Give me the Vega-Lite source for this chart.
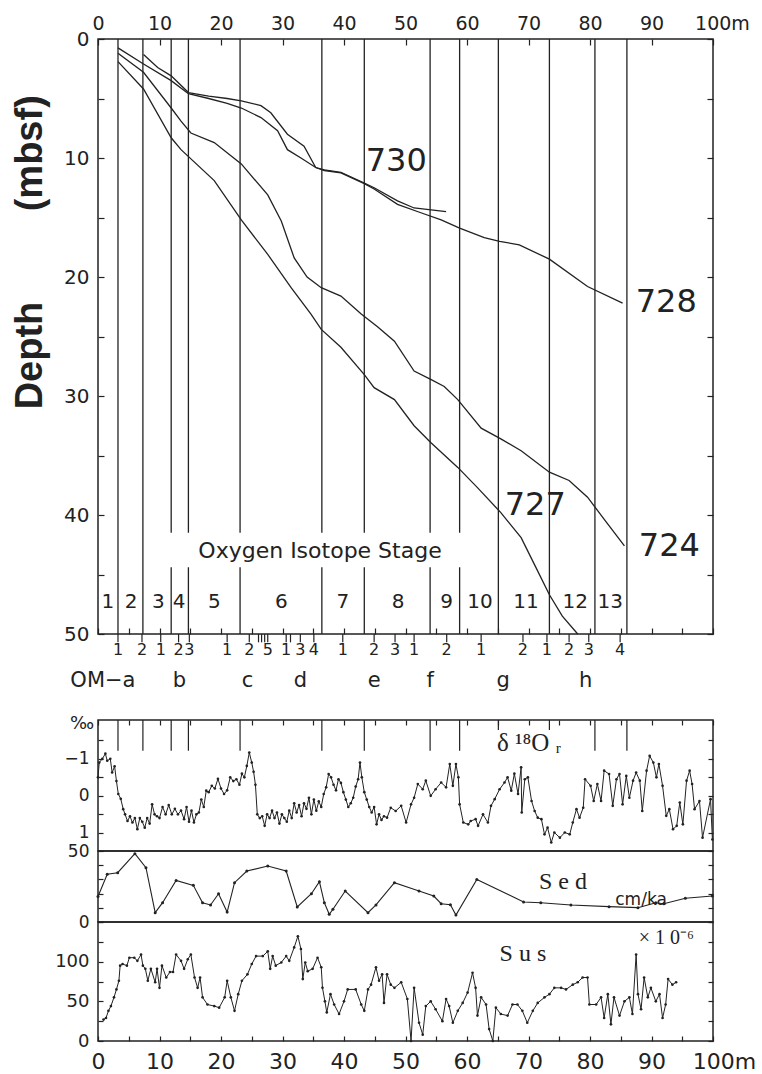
{
"$schema": "https://vega.github.io/schema/vega-lite/v6.json",
"padding": {"left": 11, "top": 13, "right": 5, "bottom": 5},
"config": {
  "view": {"stroke": "#222", "strokeWidth": 1.5},
  "font": "DejaVu Sans",
  "axis": {"domain": false, "grid": false, "tickColor": "#222", "labelColor": "#222", "labelFont": "DejaVu Sans", "tickWidth": 1.2, "labelFlush": false, "labelOverlap": false}
},
"datasets": {
  "bounds": [{"b":3.25},{"b":7.3},{"b":11.9},{"b":14.7},{"b":23.1},{"b":36.4},{"b":43.3},{"b":54.0},{"b":58.8},{"b":65.1},{"b":73.4},{"b":80.8},{"b":86.0}],
  "curves": [
    {"site":"730","x":7.4,"depth":1.3},{"site":"730","x":9.7,"depth":2.4},{"site":"730","x":11.9,"depth":3.1},{"site":"730","x":14.7,"depth":4.5},{"site":"730","x":18,"depth":4.8},{"site":"730","x":21,"depth":5.0},{"site":"730","x":23.3,"depth":5.2},{"site":"730","x":26.5,"depth":5.6},{"site":"730","x":28.1,"depth":6.2},{"site":"730","x":30.8,"depth":8.0},{"site":"730","x":33.5,"depth":9.0},{"site":"730","x":35.4,"depth":10.8},{"site":"730","x":36.8,"depth":11.0},{"site":"730","x":39.5,"depth":11.2},{"site":"730","x":43.3,"depth":12.1},{"site":"730","x":44.9,"depth":12.5},{"site":"730","x":48.7,"depth":13.6},{"site":"730","x":51.4,"depth":14.2},{"site":"730","x":56.6,"depth":14.5},
    {"site":"728","x":3.25,"depth":0.75},{"site":"728","x":7.4,"depth":2.1},{"site":"728","x":11.9,"depth":3.5},{"site":"728","x":14.7,"depth":4.6},{"site":"728","x":18,"depth":5.0},{"site":"728","x":21,"depth":5.4},{"site":"728","x":23.3,"depth":5.8},{"site":"728","x":26.5,"depth":6.6},{"site":"728","x":29.2,"depth":7.7},{"site":"728","x":30.8,"depth":9.3},{"site":"728","x":33,"depth":10.0},{"site":"728","x":35.4,"depth":10.8},{"site":"728","x":36.8,"depth":11.05},{"site":"728","x":39.5,"depth":11.25},{"site":"728","x":43.3,"depth":12.15},{"site":"728","x":44.9,"depth":12.6},{"site":"728","x":48.7,"depth":13.9},{"site":"728","x":52.5,"depth":14.6},{"site":"728","x":55.8,"depth":15.2},{"site":"728","x":58.8,"depth":15.9},{"site":"728","x":62.8,"depth":16.7},{"site":"728","x":65.3,"depth":17.0},{"site":"728","x":68.5,"depth":17.3},{"site":"728","x":73.4,"depth":18.5},{"site":"728","x":79.6,"depth":20.8},{"site":"728","x":85.3,"depth":22.2},
    {"site":"724","x":3.25,"depth":1.2},{"site":"724","x":7.4,"depth":2.8},{"site":"724","x":11.9,"depth":5.8},{"site":"724","x":13.5,"depth":6.9},{"site":"724","x":15.1,"depth":7.9},{"site":"724","x":18.9,"depth":8.7},{"site":"724","x":23.3,"depth":10.5},{"site":"724","x":27.6,"depth":13.1},{"site":"724","x":29.8,"depth":15.3},{"site":"724","x":31.9,"depth":18.4},{"site":"724","x":34,"depth":20.0},{"site":"724","x":36.3,"depth":20.9},{"site":"724","x":39.5,"depth":21.6},{"site":"724","x":42.8,"depth":23.1},{"site":"724","x":45.5,"depth":24.2},{"site":"724","x":48.2,"depth":25.4},{"site":"724","x":51.4,"depth":27.9},{"site":"724","x":54.1,"depth":28.6},{"site":"724","x":56.3,"depth":29.2},{"site":"724","x":58.5,"depth":30.3},{"site":"724","x":62.3,"depth":32.7},{"site":"724","x":65.5,"depth":33.6},{"site":"724","x":68.8,"depth":34.6},{"site":"724","x":73.4,"depth":36.4},{"site":"724","x":76.6,"depth":37.1},{"site":"724","x":79.6,"depth":38.5},{"site":"724","x":82.5,"depth":40.5},{"site":"724","x":85.6,"depth":42.6},
    {"site":"727","x":3.25,"depth":1.9},{"site":"727","x":7.4,"depth":4.2},{"site":"727","x":11.9,"depth":8.3},{"site":"727","x":13.5,"depth":9.3},{"site":"727","x":18.9,"depth":11.9},{"site":"727","x":23.3,"depth":15.2},{"site":"727","x":27.6,"depth":18.1},{"site":"727","x":31.4,"depth":20.9},{"site":"727","x":34.6,"depth":23.1},{"site":"727","x":36.3,"depth":24.4},{"site":"727","x":39.5,"depth":25.9},{"site":"727","x":43.3,"depth":28.2},{"site":"727","x":44.9,"depth":29.3},{"site":"727","x":48.2,"depth":30.3},{"site":"727","x":51.4,"depth":32.5},{"site":"727","x":54.1,"depth":33.9},{"site":"727","x":58.5,"depth":36.0},{"site":"727","x":61.7,"depth":37.7},{"site":"727","x":65.5,"depth":39.8},{"site":"727","x":68.8,"depth":41.9},{"site":"727","x":71.2,"depth":44.4},{"site":"727","x":73.4,"depth":46.7},{"site":"727","x":75.5,"depth":48.5},{"site":"727","x":78.0,"depth":50.0}
  ],
  "curveLabels": [{"label":"730","x":48.5,"y":10.25},{"label":"728","x":92.4,"y":22.1},{"label":"724","x":92.9,"y":42.6},{"label":"727","x":71.1,"y":39.2}],
  "stages": [{"s":"1","x":1.6},{"s":"2","x":5.4},{"s":"3","x":9.8},{"s":"4","x":13.2},{"s":"5","x":18.9},{"s":"6","x":29.8},{"s":"7","x":39.8},{"s":"8","x":48.8},{"s":"9","x":56.7},{"s":"10","x":62.1},{"s":"11","x":69.6},{"s":"12","x":77.6},{"s":"13","x":83.3}],
  "omEvents": [{"n":"1","x":3.25},{"n":"2","x":7.15},{"n":"1","x":10.2},{"n":"2","x":13.1},{"n":"3","x":14.85},{"n":"1","x":21.0},{"n":"2","x":24.6},{"n":"","x":26.1},{"n":"","x":26.6},{"n":"","x":27.1},{"n":"5","x":27.6},{"n":"1","x":30.6},{"n":"","x":31.3},{"n":"3","x":32.9},{"n":"4","x":35.1},{"n":"1","x":39.8},{"n":"2","x":44.9},{"n":"3","x":48.3},{"n":"1","x":51.4},{"n":"2","x":56.7},{"n":"1","x":62.3},{"n":"2","x":69.1},{"n":"1","x":73.0},{"n":"2","x":76.6},{"n":"3","x":79.8},{"n":"4","x":84.9}],
  "omLetters": [{"t":"OM−a","x":0.8},{"t":"b","x":13.25},{"t":"c","x":24.3},{"t":"d","x":32.9},{"t":"e","x":44.9},{"t":"f","x":54.0},{"t":"g","x":65.9},{"t":"h","x":79.3}],
  "d18O": [
    {"x":0,"v":-0.5},{"x":0.2,"v":-0.9},{"x":0.7,"v":-1.0},{"x":1.2,"v":-1.14},{"x":1.5,"v":-0.95},{"x":2.0,"v":-1.0},{"x":2.3,"v":-0.63},{"x":2.7,"v":-0.8},{"x":3.0,"v":-0.4},{"x":3.3,"v":-0.05},{"x":3.7,"v":0.08},{"x":4.1,"v":0.36},{"x":4.4,"v":0.5},{"x":4.8,"v":0.68},{"x":5.2,"v":0.55},{"x":5.6,"v":0.72},{"x":6.0,"v":0.6},{"x":6.4,"v":0.9},{"x":6.8,"v":0.6},{"x":7.2,"v":0.7},{"x":7.6,"v":0.86},{"x":8.0,"v":0.6},{"x":8.4,"v":0.75},{"x":8.8,"v":0.23},{"x":9.2,"v":0.5},{"x":9.6,"v":0.55},{"x":10.0,"v":0.6},{"x":10.5,"v":0.3},{"x":11.0,"v":0.5},{"x":11.5,"v":0.25},{"x":12.0,"v":0.5},{"x":12.5,"v":0.35},{"x":13.0,"v":0.5},{"x":13.5,"v":0.4},{"x":14.0,"v":0.63},{"x":14.4,"v":0.3},{"x":14.8,"v":0.7},{"x":15.2,"v":0.4},{"x":15.6,"v":0.72},{"x":16.0,"v":0.5},{"x":16.4,"v":0.45},{"x":16.8,"v":0.1},{"x":17.2,"v":0.3},{"x":17.6,"v":-0.14},{"x":18.0,"v":-0.1},{"x":18.5,"v":-0.27},{"x":19.0,"v":-0.2},{"x":19.5,"v":-0.46},{"x":20.0,"v":-0.2},{"x":20.5,"v":-0.05},{"x":21.0,"v":-0.15},{"x":21.5,"v":-0.5},{"x":22.0,"v":-0.4},{"x":22.5,"v":-0.45},{"x":23.0,"v":-0.3},{"x":23.4,"v":-0.6},{"x":23.8,"v":-0.5},{"x":24.2,"v":-0.81},{"x":24.6,"v":-1.17},{"x":25.0,"v":-0.9},{"x":25.3,"v":-0.65},{"x":25.6,"v":-0.3},{"x":25.9,"v":0.5},{"x":26.3,"v":0.6},{"x":26.7,"v":0.55},{"x":27.1,"v":0.81},{"x":27.5,"v":0.5},{"x":27.9,"v":0.6},{"x":28.3,"v":0.4},{"x":28.7,"v":0.6},{"x":29.1,"v":0.45},{"x":29.5,"v":0.75},{"x":29.9,"v":0.5},{"x":30.3,"v":0.6},{"x":30.7,"v":0.7},{"x":31.1,"v":0.4},{"x":31.5,"v":0.6},{"x":31.9,"v":0.2},{"x":32.3,"v":0.45},{"x":32.7,"v":0.25},{"x":33.1,"v":0.55},{"x":33.5,"v":0.2},{"x":33.9,"v":0.35},{"x":34.3,"v":0.05},{"x":34.7,"v":0.5},{"x":35.1,"v":0.1},{"x":35.5,"v":0.4},{"x":35.9,"v":0.15},{"x":36.3,"v":0.3},{"x":36.7,"v":-0.05},{"x":37.1,"v":-0.23},{"x":37.5,"v":-0.59},{"x":37.9,"v":-0.5},{"x":38.3,"v":-0.3},{"x":38.7,"v":-0.15},{"x":39.1,"v":-0.45},{"x":39.5,"v":-0.35},{"x":39.9,"v":-0.1},{"x":40.3,"v":0.1},{"x":40.7,"v":0.3},{"x":41.1,"v":0.2},{"x":41.5,"v":0.05},{"x":41.9,"v":-0.25},{"x":42.3,"v":-0.45},{"x":42.6,"v":-0.9},{"x":42.9,"v":-0.5},{"x":43.3,"v":-0.1},{"x":43.7,"v":0.1},{"x":44.1,"v":0.3},{"x":44.5,"v":0.45},{"x":44.9,"v":0.3},{"x":45.3,"v":0.77},{"x":45.7,"v":0.5},{"x":46.1,"v":0.65},{"x":46.5,"v":0.55},
    {"x":47.0,"v":0.59},{"x":47.6,"v":0.32},{"x":48.4,"v":0.41},{"x":49.3,"v":0.27},{"x":50.1,"v":0.72},{"x":50.9,"v":0.23},{"x":51.4,"v":0.05},{"x":52.0,"v":-0.32},{"x":52.8,"v":-0.18},{"x":53.3,"v":-0.41},{"x":54.1,"v":0.0},{"x":54.9,"v":-0.18},{"x":55.8,"v":-0.36},{"x":56.6,"v":-0.23},{"x":57.2,"v":-0.86},{"x":57.7,"v":-0.27},{"x":58.2,"v":-0.86},{"x":58.6,"v":-0.5},{"x":58.8,"v":0.23},{"x":59.4,"v":0.72},{"x":60.2,"v":0.77},{"x":60.6,"v":0.68},{"x":61.4,"v":0.63},{"x":61.8,"v":0.81},{"x":62.6,"v":0.5},{"x":63.4,"v":0.72},{"x":63.9,"v":0.27},{"x":64.5,"v":0.09},{"x":65.3,"v":-0.18},{"x":66.1,"v":-0.36},{"x":66.6,"v":-0.5},{"x":67.2,"v":-0.14},{"x":67.7,"v":-0.6},{"x":68.3,"v":-0.05},{"x":68.8,"v":-0.77},{"x":68.9,"v":0.45},{"x":69.4,"v":-0.45},{"x":69.9,"v":-0.5},{"x":70.5,"v":0.14},{"x":71.0,"v":0.41},{"x":71.5,"v":0.59},{"x":72.1,"v":0.63},{"x":72.6,"v":1.04},{"x":73.1,"v":0.86},{"x":73.7,"v":1.26},{"x":74.2,"v":0.99},{"x":75.1,"v":1.13},{"x":75.9,"v":0.99},{"x":76.7,"v":1.04},{"x":77.2,"v":0.72},{"x":77.8,"v":0.36},{"x":78.3,"v":0.59},{"x":78.9,"v":0.32},{"x":79.2,"v":-0.45},{"x":80.1,"v":-0.27},{"x":80.6,"v":0.14},{"x":81.2,"v":-0.32},{"x":81.8,"v":0.14},{"x":82.3,"v":-0.68},{"x":83.1,"v":-0.59},{"x":83.7,"v":0.27},{"x":84.3,"v":-0.45},{"x":84.8,"v":-0.59},{"x":85.3,"v":0.23},{"x":85.9,"v":-0.54},{"x":86.4,"v":0.05},{"x":87.0,"v":-0.41},{"x":87.5,"v":-0.63},{"x":88.1,"v":-0.41},{"x":88.5,"v":0.41},{"x":89.2,"v":-0.68},{"x":89.7,"v":-1.08},{"x":90.3,"v":-0.9},{"x":90.8,"v":-0.5},{"x":91.2,"v":-0.86},{"x":91.8,"v":-0.27},{"x":92.4,"v":0.54},{"x":92.9,"v":0.36},{"x":93.5,"v":0.9},{"x":94.1,"v":0.81},{"x":94.6,"v":0.18},{"x":95.1,"v":0.77},{"x":95.7,"v":-0.41},{"x":96.2,"v":-0.68},{"x":96.6,"v":-0.32},{"x":97.0,"v":0.36},{"x":97.8,"v":0.14},{"x":98.3,"v":1.13},{"x":99.6,"v":0.09},{"x":99.9,"v":1.18}
  ],
  "sed": [{"x":0,"v":18},{"x":1.5,"v":33.6},{"x":3.2,"v":34.7},{"x":6.0,"v":48.1},{"x":7.8,"v":38.2},{"x":9.3,"v":6.6},{"x":10.5,"v":13.6},{"x":12.7,"v":29.3},{"x":15.5,"v":25.8},{"x":17.0,"v":13.6},{"x":18.3,"v":12.0},{"x":19.6,"v":19.9},{"x":21.0,"v":7.0},{"x":22.2,"v":27.7},{"x":24.2,"v":35.9},{"x":27.6,"v":39.4},{"x":30.6,"v":35.9},{"x":32.4,"v":10.6},{"x":34.7,"v":19.9},{"x":36.0,"v":28.4},{"x":36.8,"v":13.6},{"x":37.6,"v":5.4},{"x":38.2,"v":9.0},{"x":40.2,"v":21.8},{"x":43.9,"v":6.6},{"x":45.2,"v":12.0},{"x":48.2,"v":27.7},{"x":52.2,"v":21.8},{"x":54.6,"v":18.3},{"x":55.8,"v":12.9},{"x":57.3,"v":12.2},{"x":58.2,"v":4.9},{"x":61.6,"v":30.0},{"x":69.2,"v":14.1},{"x":72.0,"v":13.6},{"x":76.9,"v":12.0},{"x":83.1,"v":10.8},{"x":87.8,"v":10.1},{"x":90.7,"v":13.6},{"x":92.0,"v":12.9},{"x":95.5,"v":16.7},{"x":99.9,"v":18.3}],
  "sus": [{"x":0.9,"v":27},{"x":1.3,"v":29},{"x":1.7,"v":38},{"x":2.1,"v":44},{"x":2.6,"v":55},{"x":3.0,"v":65},{"x":3.4,"v":76},{"x":3.6,"v":95},{"x":4.0,"v":97},{"x":4.7,"v":95},{"x":5.1,"v":105},{"x":5.9,"v":105},{"x":6.4,"v":101},{"x":7.0,"v":109},{"x":7.3,"v":95},{"x":7.7,"v":91},{"x":8.1,"v":76},{"x":8.6,"v":91},{"x":9.3,"v":74},{"x":9.6,"v":91},{"x":10.0,"v":67},{"x":10.4,"v":95},{"x":11.1,"v":80},{"x":11.7,"v":87},{"x":12.2,"v":87},{"x":12.7,"v":109},{"x":13.5,"v":101},{"x":14.0,"v":91},{"x":14.6,"v":103},{"x":15.1,"v":109},{"x":15.7,"v":80},{"x":16.2,"v":67},{"x":16.6,"v":80},{"x":17.0,"v":55},{"x":17.8,"v":46},{"x":18.9,"v":44},{"x":19.7,"v":42},{"x":20.6,"v":55},{"x":21.0,"v":76},{"x":21.6,"v":55},{"x":22.2,"v":38},{"x":22.8,"v":59},{"x":23.4,"v":76},{"x":24.3,"v":84},{"x":25.0,"v":97},{"x":25.7,"v":107},{"x":26.8,"v":107},{"x":27.6,"v":113},{"x":28.0,"v":91},{"x":28.4,"v":107},{"x":28.9,"v":95},{"x":29.8,"v":99},{"x":30.6,"v":107},{"x":31.1,"v":101},{"x":31.9,"v":118},{"x":32.5,"v":132},{"x":33.0,"v":116},{"x":33.3,"v":78},{"x":33.7,"v":99},{"x":34.1,"v":88},{"x":34.9,"v":91},{"x":35.7,"v":105},{"x":36.3,"v":93},{"x":36.5,"v":67},{"x":36.9,"v":50},{"x":37.2,"v":36},{"x":37.8,"v":59},{"x":38.4,"v":46},{"x":39.2,"v":34},{"x":40.0,"v":50},{"x":40.6,"v":65},{"x":41.9,"v":65},{"x":42.8,"v":46},{"x":43.3,"v":38},{"x":43.9,"v":65},{"x":44.4,"v":71},{"x":45.2,"v":93},{"x":45.7,"v":76},{"x":46.2,"v":84},{"x":46.5,"v":48},{"x":47.0,"v":84},{"x":47.6,"v":71},{"x":48.2,"v":67},{"x":49.3,"v":74},{"x":50.3,"v":53},{"x":50.9,"v":0},{"x":51.4,"v":67},{"x":52.2,"v":23},{"x":52.8,"v":8},{"x":53.3,"v":44},{"x":54.1,"v":50},{"x":54.9,"v":40},{"x":56.0,"v":25},{"x":56.6,"v":53},{"x":57.1,"v":44},{"x":57.7,"v":23},{"x":58.5,"v":38},{"x":59.3,"v":48},{"x":60.1,"v":61},{"x":60.9,"v":86},{"x":61.4,"v":67},{"x":61.7,"v":32},{"x":62.3,"v":55},{"x":63.1,"v":46},{"x":63.6,"v":15},{"x":64.2,"v":0},{"x":64.7,"v":42},{"x":65.5,"v":34},{"x":66.6,"v":32},{"x":67.4,"v":46},{"x":68.2,"v":46},{"x":69.0,"v":38},{"x":69.8,"v":23},{"x":70.7,"v":38},{"x":71.5,"v":48},{"x":72.6,"v":55},{"x":73.4,"v":59},{"x":74.2,"v":67},{"x":75.3,"v":67},{"x":76.1,"v":65},{"x":77.2,"v":71},{"x":78.0,"v":74},{"x":78.8,"v":80},{"x":79.6,"v":80},{"x":79.9,"v":46},{"x":81.0,"v":46},{"x":81.8,"v":55},{"x":82.3,"v":29},{"x":82.9,"v":59},{"x":83.4,"v":21},{"x":83.9,"v":55},{"x":84.8,"v":32},{"x":85.6,"v":50},{"x":86.4,"v":55},{"x":86.9,"v":34},{"x":87.5,"v":109},{"x":87.8,"v":59},{"x":88.3,"v":40},{"x":88.8,"v":80},{"x":89.4,"v":55},{"x":89.9,"v":67},{"x":90.7,"v":50},{"x":91.3,"v":59},{"x":91.8,"v":29},{"x":92.3,"v":46},{"x":92.7,"v":78},{"x":93.4,"v":71},{"x":94.0,"v":74}]
},
"spacing": 86,
"bounds": "flush",
"vconcat": [
  {
    "width": 615, "height": 595,
    "resolve": {"axis": {"x": "independent", "y": "independent"}},
    "layer": [
      {
        "data": {"name": "bounds"},
        "mark": {"type": "rule", "color": "#222", "strokeWidth": 1.3},
        "encoding": {
          "x": {"field": "b", "type": "quantitative", "scale": {"domain": [0, 100], "nice": false, "zero": false},
                "axis": {"orient": "top", "title": null, "values": [0,10,20,30,40,50,60,70,80,90,100], "tickSize": -6, "labelPadding": 12, "labelFontSize": 19,
                         "labelExpr": "datum.value == 100 ? '100m' : datum.label",
                         "labelOffset": {"condition": {"test": "datum.value == 100", "value": 9}, "value": 0}}},
          "y": {"datum": 0, "type": "quantitative", "scale": {"domain": [0, 50], "reverse": true, "nice": false, "zero": false},
                "axis": {"orient": "left", "title": null, "values": [0,5,10,15,20,25,30,35,40,45,50], "tickSize": -6, "labelPadding": 15, "labelFontSize": 20,
                         "labelExpr": "datum.value % 10 == 0 ? datum.label : ''"}},
          "y2": {"datum": 50}
        }
      },
      {
        "data": {"values": [{}]},
        "mark": {"type": "rect", "fill": "white"},
        "encoding": {
          "x": {"datum": 10.8, "type": "quantitative", "axis": null}, "x2": {"datum": 60.5},
          "y": {"datum": 41.5, "type": "quantitative", "axis": null}, "y2": {"datum": 44.4}
        }
      },
      {
        "data": {"name": "curves"},
        "mark": {"type": "line", "color": "#222", "strokeWidth": 1.3},
        "encoding": {
          "x": {"field": "x", "type": "quantitative", "axis": {"orient": "bottom", "title": null, "values": [0,5,10,15,20,25,30,35,40,45,50,55,60,65,70,75,80,85,90,95,100], "labels": false, "tickSize": -6}},
          "y": {"field": "depth", "type": "quantitative", "axis": {"orient": "right", "title": null, "values": [0,5,10,15,20,25,30,35,40,45,50], "labels": false, "tickSize": -6}},
          "detail": {"field": "site"}
        }
      },
      {
        "data": {"name": "curveLabels"},
        "mark": {"type": "text", "fontSize": 32, "font": "DejaVu Sans", "color": "#222", "baseline": "middle", "align": "center"},
        "encoding": {
          "x": {"field": "x", "type": "quantitative", "axis": null},
          "y": {"field": "y", "type": "quantitative", "axis": null},
          "text": {"field": "label"}
        }
      },
      {
        "data": {"name": "stages"},
        "mark": {"type": "text", "fontSize": 20, "color": "#222", "baseline": "alphabetic", "align": "center"},
        "encoding": {
          "x": {"field": "x", "type": "quantitative", "axis": null},
          "y": {"datum": 47.8, "type": "quantitative", "axis": null},
          "text": {"field": "s"}
        }
      },
      {
        "data": {"values": [{"t": "Oxygen   Isotope   Stage"}]},
        "mark": {"type": "text", "fontSize": 22, "color": "#222", "baseline": "alphabetic", "align": "center"},
        "encoding": {
          "x": {"datum": 36.1, "type": "quantitative", "axis": null},
          "y": {"datum": 43.6, "type": "quantitative", "axis": null},
          "text": {"field": "t"}
        }
      },
      {
        "data": {"name": "omEvents"},
        "mark": {"type": "rule", "color": "#222", "strokeWidth": 1.2},
        "encoding": {
          "x": {"field": "x", "type": "quantitative", "axis": null},
          "y": {"datum": 50, "type": "quantitative", "axis": null},
          "y2": {"datum": 50.7}
        }
      },
      {
        "data": {"name": "omEvents"},
        "mark": {"type": "text", "fontSize": 16, "color": "#222", "baseline": "alphabetic", "align": "center"},
        "encoding": {
          "x": {"field": "x", "type": "quantitative", "axis": null},
          "y": {"datum": 51.8, "type": "quantitative", "axis": null},
          "text": {"field": "n"}
        }
      },
      {
        "data": {"name": "omLetters"},
        "mark": {"type": "text", "fontSize": 21, "color": "#222", "baseline": "alphabetic", "align": "center"},
        "encoding": {
          "x": {"field": "x", "type": "quantitative", "axis": null},
          "y": {"datum": 54.45, "type": "quantitative", "axis": null},
          "text": {"field": "t"}
        }
      },
      {
        "data": {"values": [{"t": "Depth", "x": -10.9, "y": 26.6}]},
        "mark": {"type": "text", "fontSize": 38, "fontWeight": "bold", "font": "Liberation Sans", "color": "#222", "angle": 270, "baseline": "middle", "align": "center"},
        "encoding": {
          "x": {"field": "x", "type": "quantitative", "axis": null},
          "y": {"field": "y", "type": "quantitative", "axis": null},
          "text": {"field": "t"}
        }
      },
      {
        "data": {"values": [{"t": "(mbsf)", "x": -10.9, "y": 9.6}]},
        "mark": {"type": "text", "fontSize": 38, "fontWeight": "bold", "font": "Liberation Sans", "color": "#222", "angle": 270, "baseline": "middle", "align": "center"},
        "encoding": {
          "x": {"field": "x", "type": "quantitative", "axis": null},
          "y": {"field": "y", "type": "quantitative", "axis": null},
          "text": {"field": "t"}
        }
      }
    ]
  },
  {
    "spacing": 0,
    "bounds": "flush",
    "vconcat": [
      {
        "width": 615, "height": 131,
        "resolve": {"axis": {"x": "independent", "y": "independent"}},
        "layer": [
          {
            "data": {"name": "d18O"},
            "mark": {"type": "line", "color": "#222", "strokeWidth": 1},
            "encoding": {
              "x": {"field": "x", "type": "quantitative", "scale": {"domain": [0, 100], "nice": false, "zero": false},
                    "axis": {"orient": "top", "title": null, "values": [0,5,10,15,20,25,30,35,40,45,50,55,60,65,70,75,80,85,90,95,100], "labels": false, "tickSize": -5}},
              "y": {"field": "v", "type": "quantitative", "scale": {"domain": [-2.05, 1.49], "reverse": true, "nice": false, "zero": false},
                    "axis": {"orient": "left", "title": null, "values": [-1.5,-1,-0.5,0,0.5,1], "tickSize": -5, "labelPadding": 14, "labelFontSize": 17,
                             "labelExpr": "datum.value % 1 == 0 ? format(datum.value, 'd') : ''"}}
            }
          },
          {
            "data": {"name": "d18O"},
            "mark": {"type": "point", "filled": true, "size": 7, "color": "#222", "opacity": 1},
            "encoding": {
              "x": {"field": "x", "type": "quantitative", "axis": null},
              "y": {"field": "v", "type": "quantitative", "axis": {"orient": "right", "title": null, "values": [-1.5,-1,-0.5,0,0.5,1], "labels": false, "tickSize": -5}}
            }
          },
          {
            "data": {"name": "bounds"},
            "transform": [{"filter": "datum.b != 65.1 && datum.b != 73.4"}],
            "mark": {"type": "rule", "color": "#222", "strokeWidth": 1.2},
            "encoding": {
              "x": {"field": "b", "type": "quantitative", "axis": null},
              "y": {"datum": -2.05, "type": "quantitative", "axis": null},
              "y2": {"datum": -1.22}
            }
          },
          {
            "data": {"name": "bounds"},
            "transform": [{"filter": "datum.b == 65.1 || datum.b == 73.4"}],
            "mark": {"type": "rule", "color": "#222", "strokeWidth": 1.2},
            "encoding": {
              "x": {"field": "b", "type": "quantitative", "axis": null},
              "y": {"datum": -2.05, "type": "quantitative", "axis": null},
              "y2": {"datum": -1.78}
            }
          },
          {
            "data": {"values": [{"t": "δ ¹⁸O ᵣ", "x": 70.1, "y": -1.43}]},
            "mark": {"type": "text", "fontSize": 25, "font": "Liberation Serif", "color": "#222", "baseline": "middle", "align": "center"},
            "encoding": {
              "x": {"field": "x", "type": "quantitative", "axis": null},
              "y": {"field": "y", "type": "quantitative", "axis": null},
              "text": {"field": "t"}
            }
          },
          {
            "data": {"values": [{"t": "‰", "x": -2.6, "y": -1.95}]},
            "mark": {"type": "text", "fontSize": 18, "color": "#222", "baseline": "middle", "align": "center"},
            "encoding": {
              "x": {"field": "x", "type": "quantitative", "axis": null},
              "y": {"field": "y", "type": "quantitative", "axis": null},
              "text": {"field": "t"}
            }
          }
        ]
      },
      {
        "width": 615, "height": 71,
        "resolve": {"axis": {"x": "independent", "y": "independent"}},
        "layer": [
          {
            "data": {"name": "sed"},
            "mark": {"type": "line", "color": "#222", "strokeWidth": 1.1},
            "encoding": {
              "x": {"field": "x", "type": "quantitative", "scale": {"domain": [0, 100], "nice": false, "zero": false}, "axis": null},
              "y": {"field": "v", "type": "quantitative", "scale": {"domain": [0, 50], "nice": false},
                    "axis": {"orient": "left", "title": null, "values": [0,10,20,30,40,50], "tickSize": -5, "labelPadding": 14, "labelFontSize": 17,
                             "labelExpr": "datum.value % 50 == 0 ? datum.label : ''"}}
            }
          },
          {
            "data": {"name": "sed"},
            "mark": {"type": "point", "filled": true, "size": 9, "color": "#222", "opacity": 1},
            "encoding": {
              "x": {"field": "x", "type": "quantitative", "axis": null},
              "y": {"field": "v", "type": "quantitative", "axis": {"orient": "right", "title": null, "values": [0,10,20,30,40,50], "labels": false, "tickSize": -5}}
            }
          },
          {
            "data": {"values": [{"t": "S e d", "x": 75.6, "y": 28.2}]},
            "mark": {"type": "text", "fontSize": 24, "font": "Liberation Serif", "color": "#222", "baseline": "middle", "align": "center"},
            "encoding": {
              "x": {"field": "x", "type": "quantitative", "axis": null},
              "y": {"field": "y", "type": "quantitative", "axis": null},
              "text": {"field": "t"}
            }
          },
          {
            "data": {"values": [{"t": "cm/ka", "x": 88.3, "y": 15.5}]},
            "mark": {"type": "text", "fontSize": 17, "color": "#222", "baseline": "middle", "align": "center"},
            "encoding": {
              "x": {"field": "x", "type": "quantitative", "axis": null},
              "y": {"field": "y", "type": "quantitative", "axis": null},
              "text": {"field": "t"}
            }
          }
        ]
      },
      {
        "width": 615, "height": 119,
        "resolve": {"axis": {"x": "independent", "y": "independent"}},
        "layer": [
          {
            "data": {"name": "sus"},
            "mark": {"type": "line", "color": "#222", "strokeWidth": 1},
            "encoding": {
              "x": {"field": "x", "type": "quantitative", "scale": {"domain": [0, 100], "nice": false, "zero": false},
                    "axis": {"orient": "bottom", "title": null, "values": [0,5,10,15,20,25,30,35,40,45,50,55,60,65,70,75,80,85,90,95,100], "tickSize": -5, "labelPadding": 15, "labelFontSize": 22,
                             "labelExpr": "datum.value % 10 != 0 ? '' : (datum.value == 100 ? '100m' : datum.label)",
                             "labelOffset": {"condition": {"test": "datum.value == 100", "value": 11}, "value": 0}}},
              "y": {"field": "v", "type": "quantitative", "scale": {"domain": [0, 150], "nice": false},
                    "axis": {"orient": "left", "title": null, "values": [0,25,50,75,100,125,150], "tickSize": -5, "labelPadding": 14, "labelFontSize": 18,
                             "labelExpr": "datum.value % 50 == 0 && datum.value < 150 ? datum.label : ''"}}
            }
          },
          {
            "data": {"name": "sus"},
            "mark": {"type": "point", "filled": true, "size": 7, "color": "#222", "opacity": 1},
            "encoding": {
              "x": {"field": "x", "type": "quantitative", "axis": null},
              "y": {"field": "v", "type": "quantitative", "axis": {"orient": "right", "title": null, "values": [0,25,50,75,100,125,150], "labels": false, "tickSize": -5}}
            }
          },
          {
            "data": {"values": [{"t": "S u s", "x": 69.1, "y": 110}]},
            "mark": {"type": "text", "fontSize": 24, "font": "Liberation Serif", "color": "#222", "baseline": "middle", "align": "center"},
            "encoding": {
              "x": {"field": "x", "type": "quantitative", "axis": null},
              "y": {"field": "y", "type": "quantitative", "axis": null},
              "text": {"field": "t"}
            }
          },
          {
            "data": {"values": [{"t": "× 1 0⁻⁶", "x": 92.4, "y": 130}]},
            "mark": {"type": "text", "fontSize": 20, "font": "Liberation Serif", "color": "#222", "baseline": "middle", "align": "center"},
            "encoding": {
              "x": {"field": "x", "type": "quantitative", "axis": null},
              "y": {"field": "y", "type": "quantitative", "axis": null},
              "text": {"field": "t"}
            }
          }
        ]
      }
    ]
  }
]
}
